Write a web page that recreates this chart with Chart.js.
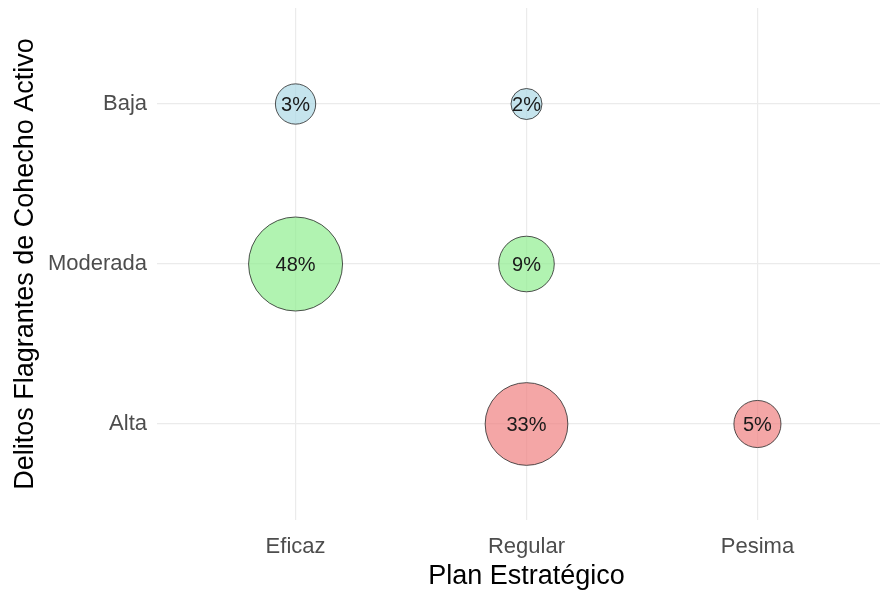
<!DOCTYPE html>
<html>
<head>
<meta charset="utf-8">
<script src="https://cdn.jsdelivr.net/npm/chart.js@4.4.1/dist/chart.umd.min.js"></script>
<style>
  html, body { margin: 0; padding: 0; background: #fff; overflow: hidden; }
  #wrap { width: 896px; height: 590px; position: relative; }
</style>
</head>
<body>
<div id="wrap"><canvas id="chart"></canvas></div>
<script>
// -------------------------------------------------------------
// DATA
// -------------------------------------------------------------
const planLabels = ["Eficaz", "Regular", "Pesima"];          // x, left to right
const delitoLabels = ["Alta", "Moderada", "Baja"];           // y, bottom to top
const pointPlan = ["Eficaz", "Regular", "Eficaz", "Regular", "Regular", "Pesima"];
const pointDelito = ["Baja", "Baja", "Moderada", "Moderada", "Alta", "Alta"];
const pointPct = [3, 2, 48, 9, 33, 5];

const delitoFill = {
  Baja: "rgba(173, 216, 230, 0.7)",
  Moderada: "rgba(144, 238, 144, 0.7)",
  Alta: "rgba(240, 128, 128, 0.7)"
};

// size scale like ggplot's scale_size (area proportional)
const R_MIN = 15.5, R_MAX = 47;
const pMin = Math.min(...pointPct), pMax = Math.max(...pointPct);
const radiusFor = v => R_MIN + (R_MAX - R_MIN) * Math.sqrt((v - pMin) / (pMax - pMin));

const FONT = '"Liberation Sans", Arial, sans-serif';
Chart.defaults.font.family = FONT;

// -------------------------------------------------------------
// LABELS INSIDE BUBBLES
// -------------------------------------------------------------
const pctLabels = {
  id: "pctLabels",
  afterDatasetsDraw(chart) {
    const ctx = chart.ctx;
    ctx.save();
    ctx.font = "20px " + FONT;
    ctx.fillStyle = "#1a1a1a";
    ctx.textAlign = "center";
    ctx.textBaseline = "middle";
    chart.getDatasetMeta(0).data.forEach((el, i) => {
      ctx.fillText(pointPct[i] + "%", el.x, el.y + 1);
    });
    ctx.restore();
  }
};

const catTicks = values => scale => {
  scale.ticks = values.map((_, i) => ({ value: i + 1 }));
};

new Chart(document.getElementById("chart"), {
  type: "bubble",
  data: {
    datasets: [{
      data: pointPct.map((v, i) => ({
        x: planLabels.indexOf(pointPlan[i]) + 1,
        y: delitoLabels.indexOf(pointDelito[i]) + 1,
        r: radiusFor(v)
      })),
      backgroundColor: pointDelito.map(d => delitoFill[d]),
      borderColor: "rgba(40, 40, 40, 0.8)",
      borderWidth: 1
    }]
  },
  options: {
    responsive: true,
    maintainAspectRatio: false,
    animation: false,
    layout: { autoPadding: false, padding: { top: 8, left: 0, right: 0, bottom: 0 } },
    plugins: {
      legend: { display: false },
      tooltip: { enabled: false }
    },
    scales: {
      x: {
        type: "linear",
        min: 0.4,
        max: 3.6,
        afterBuildTicks: catTicks(planLabels),
        afterFit: s => { s.height = 70; s.paddingLeft = 0; s.paddingRight = 0; },
        border: { display: false },
        grid: { color: "#ebebeb", lineWidth: 1.2, drawTicks: false },
        ticks: {
          padding: 14,
          color: "#4d4d4d",
          font: { size: 22 },
          callback: v => planLabels[v - 1]
        },
        title: {
          display: true,
          text: "Plan Estratégico",
          color: "#000",
          font: { size: 27, lineHeight: 1 },
          padding: { top: 0, bottom: 0 }
        }
      },
      y: {
        type: "linear",
        min: 0.4,
        max: 3.6,
        afterBuildTicks: catTicks(delitoLabels),
        afterFit: s => { s.width = 157; s.paddingTop = 0; s.paddingBottom = 0; },
        border: { display: false },
        grid: { color: "#ebebeb", lineWidth: 1.2, drawTicks: false },
        ticks: {
          padding: 10,
          color: "#4d4d4d",
          font: { size: 22 },
          callback: v => delitoLabels[v - 1]
        },
        title: {
          display: true,
          text: "Delitos Flagrantes de Cohecho Activo",
          color: "#000",
          font: { size: 27, lineHeight: 1 },
          padding: { top: 12, bottom: 0 }
        }
      }
    }
  },
  plugins: [pctLabels]
});
</script>
</body>
</html>
